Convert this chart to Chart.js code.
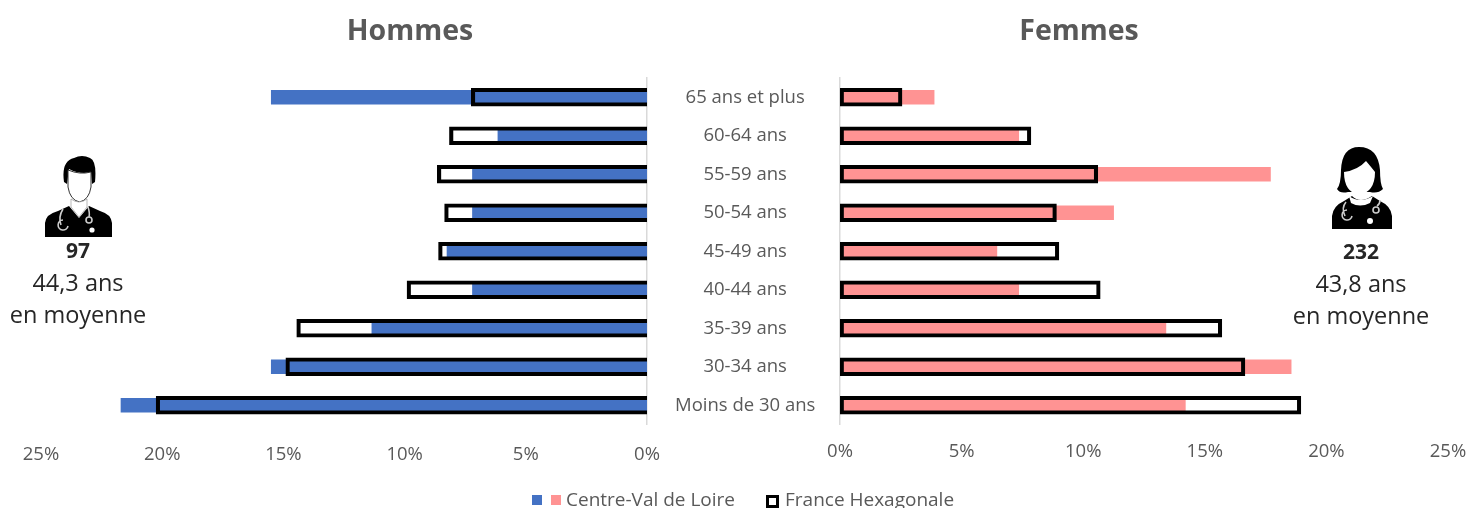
<!DOCTYPE html>
<html lang="fr">
<head>
<meta charset="utf-8">
<title>Pyramide des âges</title>
<script src="https://cdn.jsdelivr.net/npm/chart.js@4/dist/chart.umd.min.js"></script>
<style>
  html, body { margin: 0; padding: 0; background: #fff; }
  #page { position: relative; width: 1468px; height: 508px; overflow: hidden; font-family: "Open Sans", sans-serif; }
  canvas { position: absolute; top: 0; }
  .titre { position: absolute; top: 10px; width: 300px; text-align: center; font-size: 28.5px; font-weight: bold; color: #595959; }
  .info { position: absolute; width: 160px; text-align: center; font-size: 23.5px; color: #262626; }
  .info b { font-weight: bold; font-size: 21px; }
  .info div { height: 32.5px; line-height: 32.5px; }
  svg { position: absolute; }
  #legende { position: absolute; left: 0; top: 485px; width: 1468px; height: 30px; font-size: 19px; color: #595959; }
  #legende span { position: absolute; white-space: nowrap; }
  .carre { width: 10px; height: 10px; top: 10px; }
</style>
</head>
<body>
<div id="page">
  <canvas id="hommes" width="840" height="508" style="left:0"></canvas>
  <canvas id="femmes" width="668" height="508" style="left:800px"></canvas>

  <div class="titre" style="left:260px">Hommes</div>
  <div class="titre" style="left:929px">Femmes</div>

  <!-- medecin homme -->
  <svg style="left:44px;top:155px" width="70" height="84" viewBox="0 0 70 84">
    <path d="M1 82 V68 Q2 59 14 56 L25 51 L35 63 L45 51 L56 56 Q67 59 68 68 V82 Z" fill="#000"/>
    <path d="M20 27 Q17 6 30 3 Q38 -1 46 3 Q53 6 51 27 L48 29 L47 17 Q36 20 25 14 L23 29 Z" fill="#000"/>
    <path d="M24 15 Q36 20 47 17 L47 32 Q45 45 35.5 47 Q26 45 24 32 Z" fill="#fff" stroke="#333" stroke-width="1"/>
    <path d="M27 44 V52 L35 62 L43 52 V44 Q35 50 27 44 Z" fill="#fff" stroke="#888" stroke-width=".6"/>
    <path d="M19 54 Q14 62 17 70 M24 71 a5 5 0 1 1 -5 -6 M44 52 Q46 58 45 62" fill="none" stroke="#ccc" stroke-width="1.6"/>
    <circle cx="45" cy="65" r="3" fill="none" stroke="#ccc" stroke-width="1.6"/>
    <circle cx="48" cy="75" r="2.6" fill="#fff"/>
  </svg>
  <div class="info" style="left:-2px;top:233px"><div><b>97</b></div><div>44,3 ans</div><div>en moyenne</div></div>

  <!-- medecin femme -->
  <svg style="left:1330px;top:146px" width="64" height="84" viewBox="0 0 64 84">
    <path d="M2 83 V70 Q3 60 14 55 L22 50 Q30 58 42 50 L50 55 Q61 60 62 70 V83 Z" fill="#000"/>
    <path d="M29 1 Q48 1 50 24 Q50 38 53 43 Q48 48 40 46 H18 Q10 48 7 43 Q11 38 11 24 Q12 1 29 1 Z" fill="#000"/>
    <path d="M14 26 Q28 24 36 15 Q42 22 45 26 Q45 46 29 49 Q14 46 14 26 Z" fill="#fff"/>
    <path d="M19 50 Q30 58 43 50 L40 57 Q30 62 21 57 Z" fill="#fff"/>
    <path d="M16 56 Q11 62 15 70 M22 70 a5 5 0 1 1 -5 -6 M50 54 Q50 58 47 60" fill="none" stroke="#ccc" stroke-width="1.6"/>
    <circle cx="46" cy="64" r="3" fill="none" stroke="#ccc" stroke-width="1.6"/>
    <circle cx="40" cy="75" r="3" fill="#fff"/>
  </svg>
  <div class="info" style="left:1281px;top:234px"><div><b>232</b></div><div>43,8 ans</div><div>en moyenne</div></div>

  <div id="legende">
    <span class="carre" style="left:532px;background:#4472C4"></span>
    <span class="carre" style="left:551px;background:#FF9393"></span>
    <span style="left:566px;top:1px">Centre-Val de Loire</span>
    <span class="carre" style="left:766px;width:7px;height:7px;border:3px solid #000"></span>
    <span style="left:785px;top:1px">France Hexagonale</span>
  </div>
</div>

<script>
const ages = ["65 ans et plus", "60-64 ans", "55-59 ans", "50-54 ans", "45-49 ans", "40-44 ans", "35-39 ans", "30-34 ans", "Moins de 30 ans"];
const hommesRegion = [15.5, 6.15, 7.2, 7.2, 8.25, 7.2, 11.35, 15.5, 21.7];
const hommesFrance = [7.25, 8.15, 8.65, 8.35, 8.6, 9.9, 14.45, 14.9, 20.25];
const femmesRegion = [3.87, 7.35, 17.7, 11.25, 6.45, 7.35, 13.4, 18.55, 14.2];
const femmesFrance = [2.55, 7.85, 10.6, 8.9, 9.0, 10.7, 15.7, 16.65, 18.95];

const gris = "#595959";
const police = "'Open Sans', sans-serif";

function datasets(region, france, couleur, sansBord) {
    return [{
        label: "France Hexagonale",
        data: france,
        backgroundColor: "transparent",
        borderColor: "#000",
        borderWidth: 3.5,
        borderSkipped: sansBord,
        barThickness: 18,
        grouped: false,
        order: 0
    }, {
        label: "Centre-Val de Loire",
        data: region,
        backgroundColor: couleur,
        borderWidth: 0,
        barThickness: 14,
        grouped: false,
        order: 1
    }];
}

function axeX(inverse, tickPadding) {
    return {
        min: 0,
        max: 25,
        reverse: inverse,
        grid: { display: false, drawTicks: false },
        border: { display: false },
        ticks: {
            stepSize: 5,
            padding: tickPadding,
            maxRotation: 0,
            color: gris,
            font: { family: police, size: 18.5 },
            callback: function (v) { return v + "%"; }
        },
        afterFit: function (axe) {
            axe.height = 83.5;
            // the tick padding would otherwise eat into the plot width
            axe.paddingLeft = 0;
            axe.paddingRight = 0;
        }
    };
}

new Chart(document.querySelector("#hommes"), {
    type: "bar",
    data: { labels: ages, datasets: datasets(hommesRegion, hommesFrance, "#4472C4", "start") },
    options: {
        indexAxis: "y",
        responsive: false,
        animation: false,
        layout: { padding: { left: 41, top: 78, right: 0, bottom: 0 } },
        plugins: { legend: { display: false }, tooltip: { enabled: false } },
        scales: {
            x: axeX(true, 19),
            y: {
                position: "right",
                grid: { display: false, drawTicks: false },
                border: { display: true, color: "#D9D9D9", width: 1.5 },
                ticks: {
                    crossAlign: "center",
                    padding: 28,
                    color: gris,
                    font: { family: police, size: 18.5 }
                },
                afterFit: function (axe) { axe.width = 193; }
            }
        }
    }
});

new Chart(document.querySelector("#femmes"), {
    type: "bar",
    data: { labels: ages, datasets: datasets(femmesRegion, femmesFrance, "#FF9393", false) },
    options: {
        indexAxis: "y",
        responsive: false,
        animation: false,
        layout: { padding: { left: 40, top: 78, right: 20, bottom: 0 } },
        plugins: { legend: { display: false }, tooltip: { enabled: false } },
        scales: {
            x: axeX(false, 16),
            y: {
                grid: { display: false, drawTicks: false },
                border: { display: true, color: "#D9D9D9", width: 1.5 },
                ticks: { display: false },
                afterFit: function (axe) { axe.width = 0; }
            }
        }
    }
});
</script>
</body>
</html>
